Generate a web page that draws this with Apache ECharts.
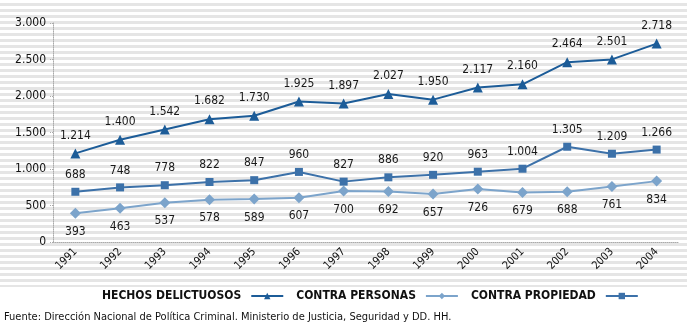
<!DOCTYPE html>
<html>
<head>
<meta charset="utf-8">
<script src="https://cdn.jsdelivr.net/npm/echarts@6/dist/echarts.min.js"></script>
<style>
html,body{margin:0;padding:0;background:#fff;}
#wrap{position:relative;width:687px;height:335px;
background:repeating-linear-gradient(to bottom,#ffffff 0px,#ffffff 3px,#e5e5e5 3px,#e5e5e5 6px) 0 0/687px 287px no-repeat;}
#chart{width:687px;height:335px;}
</style>
</head>
<body>
<div id="wrap"><div id="chart"></div></div>
<script>
const years = ['1991','1992','1993','1994','1995','1996','1997','1998','1999','2000','2001','2002','2003','2004'];
const hechos = [1214,1400,1542,1682,1730,1925,1897,2027,1950,2117,2160,2464,2501,2718];
const personas = [393,463,537,578,589,607,700,692,657,726,679,688,761,834];
const propiedad = [688,748,778,822,847,960,827,886,920,963,1004,1305,1209,1266];
const yTicks = [0,500,1000,1500,2000,2500,3000];
const seriesNames = ['HECHOS DELICTUOSOS','CONTRA PERSONAS','CONTRA PROPIEDAD'];
const source = 'Fuente: Dirección Nacional de Política Criminal. Ministerio de Justicia, Seguridad y DD. HH.';

const FONT = '"Liberation Sans Narrow","DejaVu Sans Condensed","Roboto Condensed",sans-serif';
function fmt(v){return String(v).replace(/\B(?=(\d{3})+(?!\d))/g,'.');}

const chart = echarts.init(document.getElementById('chart'), null, {renderer:'canvas'});
const lbl = (pos)=>({show:true,position:pos,distance:7,color:'#1a1a1a',fontSize:12,fontFamily:FONT,
  formatter:p=>fmt(p.value)});
chart.setOption({
  backgroundColor:'transparent',
  animation:false,
  textStyle:{fontFamily:FONT},
  grid:{left:53,right:8,top:23,bottom:93,containLabel:false},
  legend:{
    data:seriesNames,
    bottom:28,left:97,
    align:'right',
    itemWidth:32,itemHeight:8,itemGap:12,
    textStyle:{color:'#111',fontSize:12,fontFamily:FONT,fontWeight:'bold',padding:[0,5,0,0]}
  },
  graphic:[{type:'text',left:4,top:312,style:{text:source,fill:'#111',fontSize:11,fontFamily:FONT}}],
  xAxis:{
    type:'category',data:years,boundaryGap:true,
    axisLine:{lineStyle:{color:'#aaa',type:'dotted',width:1}},
    axisTick:{alignWithLabel:true,length:3,lineStyle:{color:'#aaa'}},
    axisLabel:{rotate:45,color:'#111',fontSize:11,fontFamily:FONT,margin:8},
    splitLine:{show:false}
  },
  yAxis:{
    type:'value',min:0,max:3000,interval:500,
    axisLine:{show:true,lineStyle:{color:'#aaa',type:'dotted',width:1}},
    axisTick:{show:true,length:3,lineStyle:{color:'#aaa',type:'dotted'}},
    axisLabel:{color:'#111',fontSize:12,fontFamily:FONT,margin:7,formatter:v=>fmt(v)},
    splitLine:{show:false}
  },
  series:[
    {name:seriesNames[0],type:'line',data:hechos,symbol:'triangle',symbolSize:10,
     color:'#1c5c98',lineStyle:{width:2,color:'#1c5c98'},itemStyle:{color:'#1c5c98'},label:lbl('top')},
    {name:seriesNames[1],type:'line',data:personas,symbol:'diamond',symbolSize:11,
     color:'#7ca4cb',lineStyle:{width:2,color:'#7ca4cb'},itemStyle:{color:'#7ca4cb'},label:lbl('bottom')},
    {name:seriesNames[2],type:'line',data:propiedad,symbol:'rect',symbolSize:8,
     color:'#3c71a9',lineStyle:{width:2,color:'#3c71a9'},itemStyle:{color:'#3c71a9'},label:lbl('top')}
  ]
});
</script>
</body>
</html>
